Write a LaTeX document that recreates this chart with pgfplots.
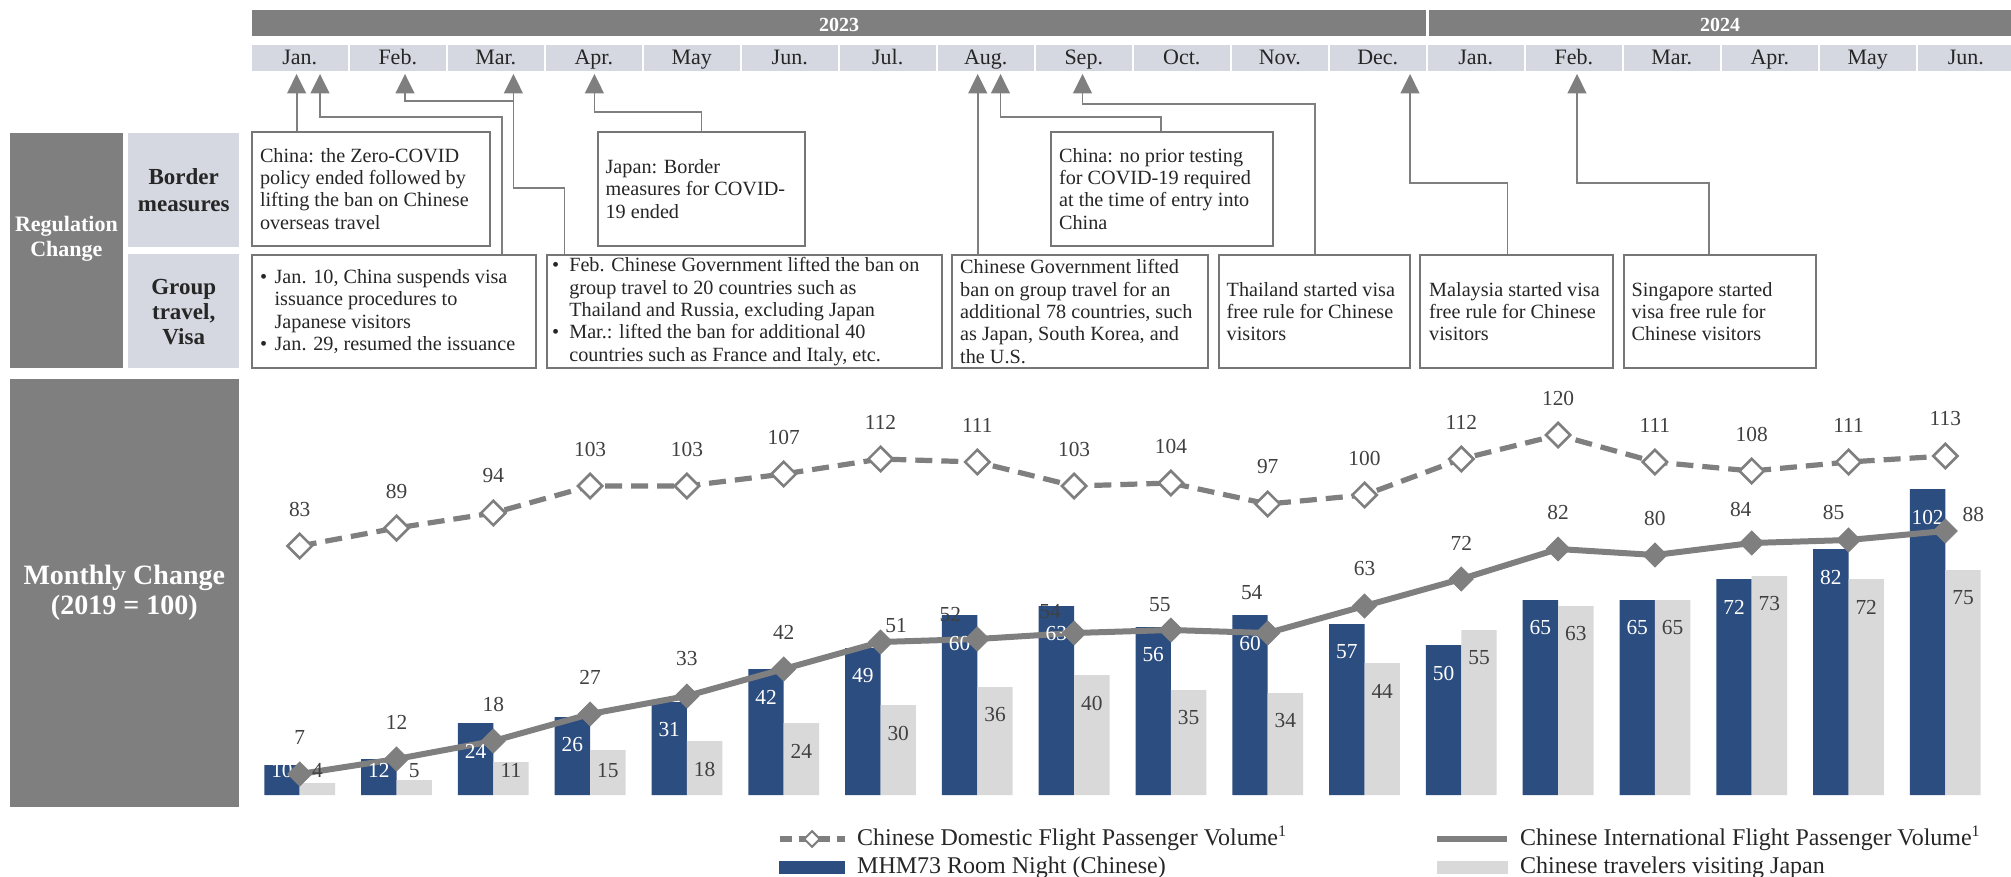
\documentclass[border=0pt]{standalone}
\usepackage{pgfplots}
\pgfplotsset{compat=1.18}
\usepackage{pgfplotstable}
\usepackage{fontspec}
\setmainfont{Liberation Serif}

\definecolor{hdrgrey}{HTML}{7F7F7F}
\definecolor{cellblue}{HTML}{D5D8E0}
\definecolor{navy}{HTML}{2C4D7F}
\definecolor{lightbar}{HTML}{D9D9D9}
\definecolor{linegrey}{HTML}{7F7F7F}
\definecolor{txt}{HTML}{262626}
\definecolor{lbl}{HTML}{404040}
\definecolor{frame}{HTML}{767676}

\newcommand\lblfont{\fontsize{10.7}{12}\selectfont}
\newcommand\monthfont{\fontsize{11}{12}\selectfont}
\newcommand\bul[1]{\makebox[#1][l]{\textbullet}}

% Monthly index values (2019 = 100); dx/dy nudge the international-flight labels (pt)
\pgfplotstableread{
i dom intl mhm vis dx dy
0 83 7 10 4 0 18.5
1 89 12 12 5 0 18.5
2 94 18 24 11 0 18.5
3 103 27 26 15 0 18.5
4 103 33 31 18 0 18.5
5 107 42 42 24 0 18.5
6 112 51 49 30 7.75 8
7 111 52 60 36 -13.5 12
8 103 54 63 40 -12 10.5
9 104 55 56 35 -5.5 12.5
10 97 54 60 34 -8 20
11 100 63 57 44 0 18.5
12 112 72 50 55 0 18
13 120 82 65 63 0 18.5
14 111 80 65 65 0 18.5
15 108 84 72 73 -5.5 17
16 111 85 82 72 -7.5 14
17 113 88 102 75 14 8.5
}\monthly

\pgfplotsset{
  domline/.style={linegrey, line width=2.6pt, dash pattern=on 8.5pt off 4.5pt,
    mark=square*, mark size=4.3pt,
    mark options={solid, fill=white, draw=linegrey, line width=1.3pt, rotate=45}},
  intline/.style={linegrey, line width=3pt, solid,
    mark=square*, mark size=4.2pt,
    mark options={solid, fill=linegrey, draw=linegrey, line width=0.5pt, rotate=45}},
  labels/.style={draw=none, mark=none, forget plot, nodes near coords, point meta=explicit,
    every node near coord/.append style={font=\lblfont, text=#1, anchor=center}},
}

\tikzset{boxtxt/.style={anchor=west, align=left, inner sep=0pt, text=txt,
  font=\fontsize{10.1}{11.2}\selectfont}}

\newcommand\ahead[1]{\fill[linegrey] ({#1-9.7},93.5) -- (#1,74) -- ({#1+9.7},93.5) -- cycle;}

\begin{document}
\begin{tikzpicture}
\begin{scope}[x=0.5pt,y=-0.5pt]
  % year header
  \fill[hdrgrey] (252,10) rectangle (1426,36.5);
  \fill[hdrgrey] (1428.5,10) rectangle (2011,36.5);
  \node[font=\bfseries\fontsize{10}{12}\selectfont, text=white, anchor=base] at (839,31.5) {2023};
  \node[font=\bfseries\fontsize{10}{12}\selectfont, text=white, anchor=base] at (1720,31.5) {2024};
  % month header
  \foreach \m [count=\k from 0] in {Jan.,Feb.,Mar.,Apr.,May,Jun.,Jul.,Aug.,Sep.,Oct.,Nov.,Dec.,Jan.,Feb.,Mar.,Apr.,May,Jun.} {
    \fill[cellblue] ({252+98*\k},45) rectangle ({347.5+98*\k},71);
    \node[font=\monthfont, text=txt, anchor=base] at ({299.75+98*\k},65) {\m};
  }
  % left row headers
  \fill[hdrgrey] (9.6,133.3) rectangle (123.1,368.3);
  \node[text=white, font=\bfseries\fontsize{11}{12.5}\selectfont, align=center] at (66.4,239.2) {Regulation\\Change};
  \fill[cellblue] (128.2,133.3) rectangle (239.2,247);
  \node[text=txt, font=\bfseries\fontsize{11.5}{13.3}\selectfont, align=center] at (183.7,190) {Border\\measures};
  \fill[cellblue] (128.2,254) rectangle (239.2,368.3);
  \node[text=txt, font=\bfseries\fontsize{11.5}{12.5}\selectfont, align=center] at (183.7,311.7) {Group\\travel,\\Visa};
  \fill[hdrgrey] (9.6,379.3) rectangle (239,806.7);
  \node[text=white, font=\bfseries\fontsize{14}{15}\selectfont, align=center] at (124.3,593) {Monthly Change\\(2019 = 100)};

  % connectors
  \begin{scope}[linegrey, line width=0.9pt]
    \draw (296.6,93) -- (296.6,132);
    \draw (320,93) -- (320,117.3) -- (502,117.3) -- (502,255);
    \draw (405,93) -- (405,100.7) -- (513.4,100.7);
    \draw (513.4,93) -- (513.4,188.3) -- (564.4,188.3) -- (564.4,255);
    \draw (594.4,93) -- (594.4,111.7) -- (701.5,111.7) -- (701.5,132);
    \draw (977.7,93) -- (977.7,255);
    \draw (1000.5,93) -- (1000.5,116.7) -- (1161,116.7) -- (1161,132);
    \draw (1082.5,93) -- (1082.5,104) -- (1314.6,104) -- (1314.6,255);
    \draw (1410,93) -- (1410,182.7) -- (1507.4,182.7) -- (1507.4,255);
    \draw (1577,93) -- (1577,182.7) -- (1709,182.7) -- (1709,255);
  \end{scope}
  \ahead{296.6}\ahead{320}\ahead{405}\ahead{513.4}\ahead{594.4}
  \ahead{977.7}\ahead{1000.5}\ahead{1082.5}\ahead{1410}\ahead{1577}

  % event boxes
  \begin{scope}[frame, line width=1pt, fill=white]
    \filldraw (252,131.7) rectangle (490.4,245.7);
    \filldraw (597.6,131.7) rectangle (804.8,245.7);
    \filldraw (1051,131.7) rectangle (1272.7,245.7);
    \filldraw (252,255) rectangle (535.7,368.3);
    \filldraw (546.6,255) rectangle (942,368.3);
    \filldraw (951.5,255) rectangle (1207.6,368.3);
    \filldraw (1218.6,255) rectangle (1410,368.3);
    \filldraw (1420.4,255) rectangle (1612.5,368.3);
    \filldraw (1623.5,255) rectangle (1815.6,368.3);
  \end{scope}
  \node[boxtxt] at (259.6,188.7) {China: the Zero-COVID\\policy ended followed by\\lifting the ban on Chinese\\overseas travel};
  \node[boxtxt] at (605.2,188.7) {Japan: Border\\measures for COVID-\\19 ended};
  \node[boxtxt] at (1058.7,188.7) {China: no prior testing\\for COVID-19 required\\at the time of entry into\\China};
  \node[boxtxt] at (259.6,311.6) {\bul{7.3pt}Jan. 10, China suspends visa\\\hspace*{7.3pt}issuance procedures to\\\hspace*{7.3pt}Japanese visitors\\\bul{7.3pt}Jan. 29, resumed the issuance};
  \node[boxtxt] at (551.7,311.6) {\bul{8.6pt}Feb. Chinese Government lifted the ban on\\\hspace*{8.6pt}group travel to 20 countries such as\\\hspace*{8.6pt}Thailand and Russia, excluding Japan\\\bul{8.6pt}Mar.: lifted the ban for additional 40\\\hspace*{8.6pt}countries such as France and Italy, etc.};
  \node[boxtxt] at (959.8,311.6) {Chinese Government lifted\\ban on group travel for an\\additional 78 countries, such\\as Japan, South Korea, and\\the U.S.};
  \node[boxtxt] at (1226.3,311.6) {Thailand started visa\\free rule for Chinese\\visitors};
  \node[boxtxt] at (1428.8,311.6) {Malaysia started visa\\free rule for Chinese\\visitors};
  \node[boxtxt] at (1631.2,311.6) {Singapore started\\visa free rule for\\Chinese visitors};
\end{scope}

\begin{axis}[
  at={(125.65pt,-397.5pt)}, anchor=south west,
  scale only axis, width=871.2pt, height=195pt,
  xmin=-0.5, xmax=17.5, ymin=0, ymax=130,
  axis lines=none, ticks=none, clip=false,
  /pgf/number format/assume math mode=true,
  legend columns=2, legend cell align=left,
  legend style={at={(0.3017,-0.0846)}, anchor=north west, draw=none, fill=none,
    inner sep=0pt, outer sep=0pt, font=\fontsize{12}{14}\selectfont, text=txt,
    row sep=3pt, nodes={inner sep=0pt, text height=8.5pt, text depth=2.5pt},
    /tikz/every odd column/.append style={column sep=5pt}},
]
  % MHM73 room nights
  \addplot[ybar, bar width=17.7pt, bar shift=-8.85pt, fill=navy, draw=none, forget plot]
    table[x=i, y=mhm] {\monthly};
  % Chinese travellers to Japan
  \addplot[ybar, bar width=17.7pt, bar shift=8.85pt, fill=lightbar, draw=none, forget plot]
    table[x=i, y=vis] {\monthly};
  % bar values, set inside the top of each bar
  \addplot[labels=white]
    table[x expr=\thisrow{i}-0.1829, y expr={max(\thisrow{mhm}-9.33,8.1)}, meta=mhm] {\monthly};
  \addplot[labels=lbl]
    table[x expr=\thisrow{i}+0.1829, y expr={max(\thisrow{vis}-9.33,8.1)}, meta=vis] {\monthly};
  % domestic flight passengers
  \addplot[domline, forget plot, nodes near coords, point meta=y,
    every node near coord/.append style={font=\lblfont, text=lbl, anchor=center, yshift=18.5pt}]
    table[x=i, y=dom] {\monthly};
  % international flight passengers
  \addplot[intline, forget plot] table[x=i, y=intl] {\monthly};
  \addplot[labels=lbl]
    table[x expr=\thisrow{i}+\thisrow{dx}/48.4, y expr=\thisrow{intl}+\thisrow{dy}/1.5, meta=intl] {\monthly};

  \addlegendimage{legend image code/.code={
      \draw[linegrey, line width=2.6pt, dash pattern=on 6pt off 3.5pt] (0pt,0pt) -- (32.5pt,0pt);
      \draw[linegrey, fill=white, line width=1pt, rotate around={45:(16.25pt,0pt)}]
        (13.5pt,-2.75pt) rectangle (19pt,2.75pt);}}
  \addlegendentry{\makebox[288.5pt][l]{Chinese Domestic Flight Passenger Volume\textsuperscript{1}}}
  \addlegendimage{legend image code/.code={
      \draw[linegrey, line width=3pt] (0pt,0pt) -- (35pt,0pt);}}
  \addlegendentry{Chinese International Flight Passenger Volume\textsuperscript{1}}
  \addlegendimage{legend image code/.code={
      \fill[navy] (0pt,-3pt) rectangle (32.5pt,3pt);}}
  \addlegendentry{\makebox[288.5pt][l]{MHM73 Room Night (Chinese)}}
  \addlegendimage{legend image code/.code={
      \fill[lightbar] (0pt,-3pt) rectangle (35pt,3pt);}}
  \addlegendentry{Chinese travelers visiting Japan}
\end{axis}
\pgfresetboundingbox
\useasboundingbox (0pt,0pt) rectangle (1005.5pt,-438.5pt);
\end{tikzpicture}
\end{document}
